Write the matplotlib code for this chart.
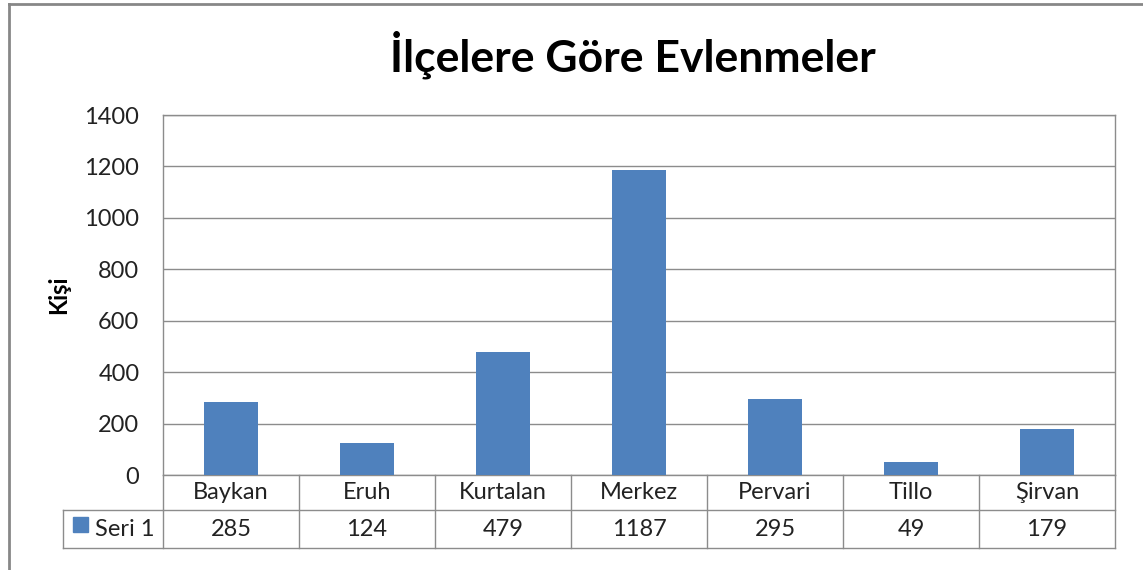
import matplotlib.pyplot as plt
from matplotlib.lines import Line2D
from matplotlib.patches import Rectangle

plt.rcParams['font.family'] = ['Lato', 'DejaVu Sans']

districts = ['Baykan', 'Eruh', 'Kurtalan', 'Merkez', 'Pervari', 'Tillo', 'Şirvan']
marriages = [285, 124, 479, 1187, 295, 49, 179]
series_name = 'Seri 1'
y_ticks = [0, 200, 400, 600, 800, 1000, 1200, 1400]

bar_color = '#4F81BD'
grid_color = '#8C8C8C'
text_color = '#222222'
fs = 17

fig = plt.figure(figsize=(11.43, 5.70), dpi=100)
ax = fig.add_axes([163 / 1143, 1 - 475 / 570, (1115 - 163) / 1143, 360 / 570])

x = range(len(districts))
ax.bar(x, marriages, width=0.4, color=bar_color, zorder=3)
ax.set_xlim(-0.5, len(districts) - 0.5)
ax.set_ylim(0, 1400)
ax.set_yticks(y_ticks)
ax.set_yticklabels([str(t) for t in y_ticks], fontsize=fs, color=text_color)
ax.set_xticks([])
ax.tick_params(axis='y', length=0, pad=17)
ax.grid(axis='y', color=grid_color, linewidth=1, zorder=0)
for s in ax.spines.values():
    s.set_color(grid_color)
    s.set_linewidth(1)

fig.text(59 / 1143, 1 - 295 / 570, 'Kişi', rotation=90, ha='center', va='center',
         fontsize=17, fontweight='bold')

# data table below the plot (px sizes converted to axes fraction)
n = len(districts)
row1 = -35 / 360
row2 = -73 / 360
leg_left = -100 / 952
kw = dict(transform=ax.transAxes, color=grid_color, linewidth=1, clip_on=False)
ax.add_line(Line2D([0, 1], [row1, row1], **kw))
ax.add_line(Line2D([leg_left, 1], [row2, row2], **kw))
ax.add_line(Line2D([leg_left, leg_left], [row1, row2], **kw))
ax.add_line(Line2D([leg_left, 0], [row1, row1], **kw))
for i in range(n + 1):
    xi = i / n
    ax.add_line(Line2D([xi, xi], [0, row2], **kw))
for i, (name, val) in enumerate(zip(districts, marriages)):
    xc = (i + 0.5) / n
    ax.text(xc, row1 / 2, name, transform=ax.transAxes, ha='center', va='center',
            fontsize=fs, color=text_color)
    ax.text(xc, (row1 + row2) / 2, str(val), transform=ax.transAxes, ha='center',
            va='center', fontsize=fs, color=text_color)
ax.add_patch(Rectangle((-90 / 952, -57 / 360), 15 / 952, 15 / 360,
                       transform=ax.transAxes, color=bar_color, clip_on=False))
ax.text(-68 / 952, (row1 + row2) / 2, series_name, transform=ax.transAxes,
        ha='left', va='center', fontsize=fs, color=text_color)

fig.text(633 / 1143, 1 - 55 / 570, 'İlçelere Göre Evlenmeler', ha='center', va='center',
         fontsize=32, fontweight='bold')

# outer chart border
fig.add_artist(Line2D([9 / 1143, 9 / 1143], [0, 1 - 4 / 570], transform=fig.transFigure,
                      color='#878787', linewidth=2))
fig.add_artist(Line2D([9 / 1143, 1], [1 - 4 / 570, 1 - 4 / 570], transform=fig.transFigure,
                      color='#878787', linewidth=2))

fig.savefig('out.png', dpi=100)
